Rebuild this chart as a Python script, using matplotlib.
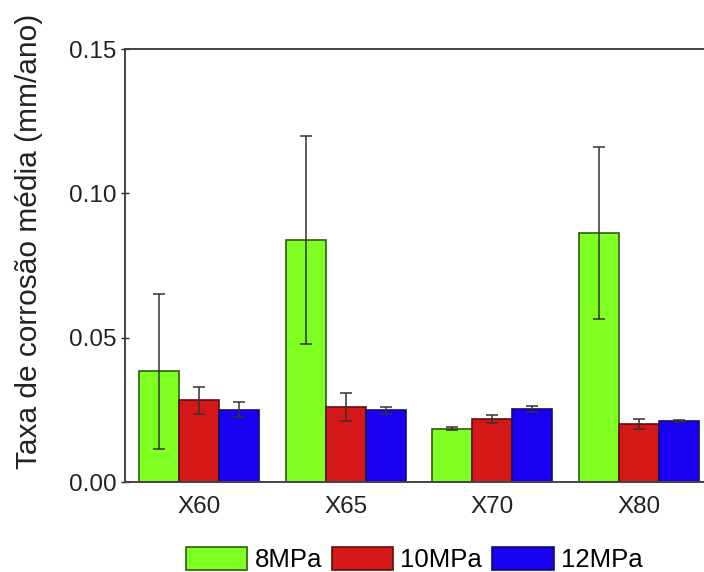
import numpy as np
from matplotlib import pyplot as plt
from matplotlib.ticker import FormatStrFormatter

# ── data ─────────────────────────────────────────────────────────────────────
STEELS   = ['X60', 'X65', 'X70', 'X80']
SERIES   = ['8MPa', '10MPa', '12MPa']
MEANS = {
    '8MPa':  [0.0383, 0.0839, 0.0185, 0.0862],
    '10MPa': [0.0283, 0.0261, 0.0219, 0.0201],
    '12MPa': [0.0251, 0.0248, 0.0253, 0.0211],
}
ERRS = {
    '8MPa':  [0.0270, 0.0360, 0.0006, 0.0297],
    '10MPa': [0.0047, 0.0049, 0.0013, 0.0016],
    '12MPa': [0.0026, 0.0013, 0.0009, 0.0004],
}
FACE  = ['#80ff22', '#d41818', '#1a00f2']
EDGE  = ['#2e5c10', '#5a1010', '#10106a']

# ── styling ──────────────────────────────────────────────────────────────────
plt.rcParams['font.family'] = ['Liberation Sans', 'DejaVu Sans']
W   = 0.273
FS  = 17.5

fig = plt.figure(figsize=(7.04, 5.72), dpi=100)
ax  = fig.add_axes([0.1776, 0.1573, 0.835, 0.757])

x = np.arange(len(STEELS))
for (i, name) in enumerate(SERIES):
    ax.bar(x + (i - 1) * W, MEANS[name], W, yerr=ERRS[name],
           color=FACE[i], edgecolor=EDGE[i], linewidth=1.2,
           error_kw=dict(ecolor='#333333', elinewidth=1.1, capsize=4.5,
                         capthick=1.1),
           label=name, zorder=2)

ax.set_xlim(-0.504, 3.504)
ax.set_ylim(0, 0.15)
ax.set_yticks([0, 0.05, 0.10, 0.15])
ax.yaxis.set_major_formatter(FormatStrFormatter('%.2f'))
ax.set_xticks(x)
ax.set_xticklabels(STEELS)
ax.tick_params(axis='y', direction='inout', length=6, width=1, pad=3,
               labelsize=FS, colors='#222222')
ax.tick_params(axis='x', length=0, pad=10, labelsize=FS, colors='#222222')
for sp in ax.spines.values():
    sp.set_color('#444444')
    sp.set_linewidth(1.4)
ax.spines['right'].set_visible(False)

fig.text(29 / 704, 1 - 241 / 572, 'Taxa de corrosão média (mm/ano)',
         rotation=90, ha='center', va='center', fontsize=21.5, color='#222222')

fig.legend(loc='center', bbox_to_anchor=(0.588, 0.022), ncol=3,
           frameon=False, fontsize=18.5, handlelength=2.4, handleheight=1.0,
           handletextpad=0.28, columnspacing=0.38, borderaxespad=0)

fig.savefig('out.png', dpi=100)
